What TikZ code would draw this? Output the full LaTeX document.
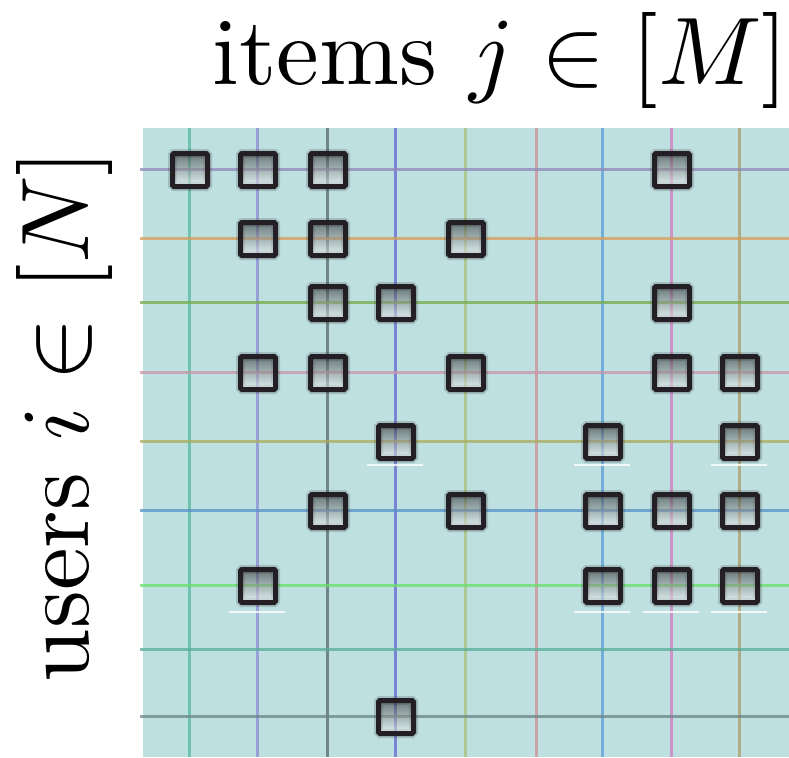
\documentclass[tikz,border=0pt]{standalone}
\begin{document}
\begin{tikzpicture}[x=1pt,y=-1pt,
  gline/.style={line width=3pt, draw opacity=0.75},
  sq/.style={draw=sqborder, line width=5pt, rounded corners=1.5pt,
    minimum width=35pt, minimum height=33pt, inner sep=0pt,
    top color=black!85, bottom color=white, fill opacity=0.55, draw opacity=1,
    preaction={draw=sqborder, line width=9pt, draw opacity=0.18}},
  artifact/.style={draw=white, line width=1.6pt, opacity=0.8},
  big/.style={font=\fontsize{10}{12}\selectfont, inner sep=0pt, scale=9.6, transform shape}]
\definecolor{panel}{HTML}{BFE0E0}
\definecolor{sqborder}{HTML}{231F24}
\definecolor{c1}{HTML}{55B89C}
\definecolor{c2}{HTML}{8A8CD4}
\definecolor{c3}{HTML}{56686A}
\definecolor{c4}{HTML}{6468D0}
\definecolor{c5}{HTML}{A8C07A}
\definecolor{c6}{HTML}{D08C98}
\definecolor{c7}{HTML}{5A9ED8}
\definecolor{c8}{HTML}{D07CC0}
\definecolor{c9}{HTML}{AC9C68}
\definecolor{r1}{HTML}{9088B8}
\definecolor{r2}{HTML}{D89C58}
\definecolor{r3}{HTML}{74AC48}
\definecolor{r4}{HTML}{C894A8}
\definecolor{r5}{HTML}{ACAC5C}
\definecolor{r6}{HTML}{5490C8}
\definecolor{r7}{HTML}{68E068}
\definecolor{r8}{HTML}{58AC98}
\definecolor{r9}{HTML}{6C8484}
\useasboundingbox (0,0) rectangle (789,757);
\fill[white] (0,0) rectangle (789,757);
\fill[panel] (143,128) rectangle (789,757);
% vertical grid lines (items)
\foreach \x/\c in {189/c1,257/c2,327/c3,395/c4,465/c5,536/c6,602/c7,671/c8,739/c9}
  \draw[gline, draw=\c] (\x,128) -- (\x,757);
% horizontal grid lines (users)
\foreach \y/\c in {169/r1,238/r2,302/r3,372/r4,441/r5,510/r6,585/r7,649/r8,716/r9}
  \draw[gline, draw=\c] (140,\y) -- (789,\y);
% faint artifacts
\foreach \x in {395,602,739} \draw[artifact] (\x-28,465) -- (\x+28,465);
\foreach \x in {257,602,671,739} \draw[artifact] (\x-28,612) -- (\x+28,612);
% observed entries (row/column)
\foreach \r/\cc/\x/\y in {
  1/1/189/169, 1/2/257/169, 1/3/327/169, 1/8/671/169,
  2/2/257/238, 2/3/327/238, 2/5/465/238,
  3/3/327/302, 3/4/395/302, 3/8/671/302,
  4/2/257/372, 4/3/327/372, 4/5/465/372, 4/8/671/372, 4/9/739/372,
  5/4/395/441, 5/7/602/441, 5/9/739/441,
  6/3/327/510, 6/5/465/510, 6/7/602/510, 6/8/671/510, 6/9/739/510,
  7/2/257/585, 7/7/602/585, 7/8/671/585, 7/9/739/585,
  9/4/395/716}
  \node[sq] (s\r\cc) at (\x+1,\y+1) {};
\node[big, anchor=base west] (items) at (211,85) {items $j\in[M]$};
\node[big, anchor=base west, rotate=90] (users) at (88,684) {users $i\in[N]$};
\end{tikzpicture}
\end{document}
